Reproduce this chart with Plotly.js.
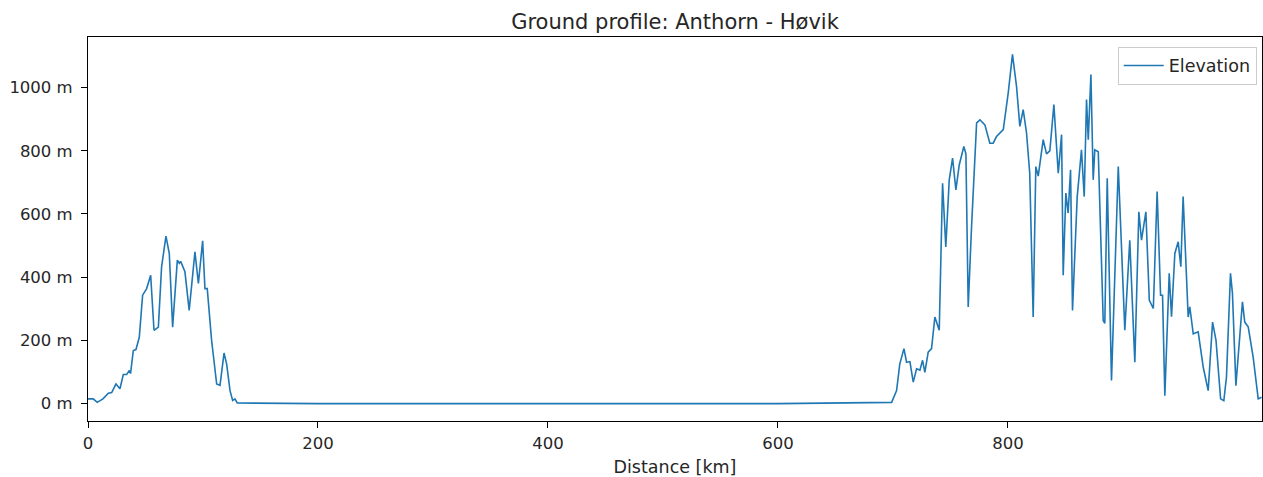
<!DOCTYPE html>
<html>
<head>
<meta charset="utf-8">
<script src="https://cdn.plot.ly/plotly-3.0.1.min.js"></script>
<style>html,body{margin:0;padding:0;background:#fff;}#chart{width:1263px;height:477px;}</style>
</head>
<body>
<div id="chart"></div>
<script>
const distance_km = [
  0, 4.6, 8, 13, 17.7, 20.6, 24.3, 27.8, 30.7, 33.6, 36, 37, 39.4, 41.7, 44.6, 47.5, 51, 54.5, 57.4, 61.2,
  64, 67.8, 70.7, 73.6, 77.7, 79.4, 80.6, 84.3, 88, 93, 96, 99.7, 101.7, 103.7, 107.5, 111.9, 114.8, 118.3,
  120.6, 123.5, 125.8, 127.8, 129.8, 200, 300, 400, 500, 600, 698.9,
  703.2, 706, 709.6, 711.9, 714.8, 717.7, 720.6, 723.5, 725.8, 727.8, 730.7, 733.6, 736.5, 740.3, 743.2,
  746, 749, 751.9, 754.8, 757.7, 761.7, 763.5, 765.5, 768.4, 772.8, 775.7, 780, 784.3, 787.2, 790.1, 793,
  796, 800.3, 804, 807.5, 810.4, 813.3, 816.2, 819, 822, 824.3, 826.4, 830.7, 833.6, 836.5, 840, 843.8,
  846.7, 848.1, 850.4, 852.4, 854.5, 856.2, 860.3, 864, 866.4, 868.4, 869.9, 872.2, 874.2, 875.6, 878.6,
  882.9, 884.3, 886.4, 890.1, 896, 901.7, 906, 910.4, 913.9, 916.2, 920, 923, 926.5, 929.8, 932.8, 934.5,
  936.5, 940.3, 942.3, 945.2, 948.1, 950.4, 952.4, 956.8, 958.2, 961.2, 965.5, 969.9, 974.2, 978, 981,
  985, 987.8, 990.1, 993.6, 995.3, 998.3, 1004, 1006, 1009, 1013.3, 1017.7, 1020.6
];
const elevation_m = [
  15, 15, 4, 15, 33, 35, 62, 47, 92, 92, 105, 95, 168, 171, 210, 343, 364, 406, 232, 242,
  433, 530, 475, 242, 454, 444, 450, 417, 295, 480, 380, 515, 364, 364, 200, 62, 58, 160,
  125, 41, 10, 15, 2, 0, 0, 0, 0, 0, 4,
  41, 126, 174, 131, 133, 68, 110, 106, 137, 99, 163, 174, 274, 232, 697,
  496, 708, 777, 676, 755, 814, 790, 306, 560, 888, 898, 882, 824, 824, 845, 857,
  867, 983, 1105, 1004, 877, 930, 857, 729, 274, 750, 720, 835, 790, 800, 946, 729,
  851, 406, 666, 603, 740, 295, 655, 803, 655, 962, 835, 1041, 708, 803, 797,
  263, 254, 713, 73, 750, 232, 517, 131, 607, 517, 607, 327, 301, 671, 343, 343,
  25, 412, 275, 475, 512, 433, 655, 274, 306, 221, 227, 115, 41, 258, 200,
  15, 9, 84, 412, 349, 57, 322, 258, 243, 147, 15, 20
];
const seriesName = 'Elevation';
const xTicks = [0, 200, 400, 600, 800];
const yTicks = [0, 200, 400, 600, 800, 1000];

const font = "'DejaVu Sans', sans-serif";
const txt = '#262626';
const trace = {
  x: distance_km, y: elevation_m, type: 'scatter', mode: 'lines', name: seriesName,
  line: {color: '#1f77b4', width: 1.6}
};
const layout = {
  width: 1263, height: 477,
  margin: {l: 88, r: 1, t: 37, b: 56},
  paper_bgcolor: '#fff', plot_bgcolor: '#fff',
  font: {family: font, size: 16.5, color: txt},
  title: {text: 'Ground profile: Anthorn - Høvik', font: {family: font, size: 21, color: txt},
          xref: 'paper', x: 0.5, xanchor: 'center', y: 0.955, yanchor: 'middle'},
  showlegend: true,
  legend: {x: 0.9955, y: 0.975, xanchor: 'right', yanchor: 'top', bordercolor: '#cccccc', borderwidth: 1,
           itemwidth: 40, tracegroupgap: 0,
           bgcolor: 'rgba(255,255,255,0.8)', font: {family: font, size: 17.5, color: txt}},
  xaxis: {range: [0, 1021], tickvals: xTicks, ticktext: xTicks.map(String), showgrid: false, zeroline: false,
          showline: true, linecolor: '#000', linewidth: 1, mirror: true, ticks: 'outside', ticklen: 6,
          tickcolor: '#000', ticklabelstandoff: 1, tickfont: {family: font, size: 16.5, color: txt},
          title: {text: 'Distance [km]', font: {family: font, size: 17.5, color: txt}, standoff: 9}},
  yaxis: {range: [-55, 1160], tickvals: yTicks, ticktext: yTicks.map(v => v + ' m'), showgrid: false, zeroline: false,
          showline: true, linecolor: '#000', linewidth: 1, mirror: true, ticks: 'outside', ticklen: 6,
          tickcolor: '#000', ticklabelstandoff: 5, tickfont: {family: font, size: 16.5, color: txt}}
};
Plotly.newPlot('chart', [trace], layout, {displayModeBar: false, staticPlot: true});
</script>
</body>
</html>
